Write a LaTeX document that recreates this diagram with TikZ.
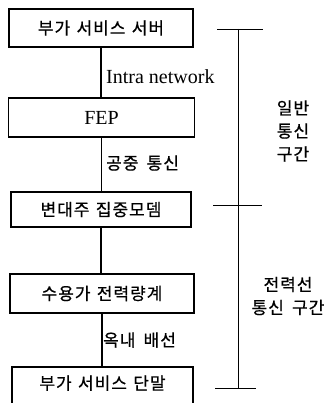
\documentclass[tikz,border=0pt]{standalone}
\usepackage{fontspec}
\newfontfamily\kr[LetterSpace=6,WordSpace=2,FakeBold=0.6]{Noto Sans CJK KR}
\newfontfamily\krbox[LetterSpace=6,WordSpace=1.3,FakeBold=0.6]{Noto Sans CJK KR}
\newfontfamily\latf{Liberation Serif}
\begin{document}
\begin{tikzpicture}[x=1pt,y=-1pt,
  box/.style={draw,line width=1.2pt,inner sep=0pt,minimum width=184pt,minimum height=38pt,
    font=\krbox\fontsize{17}{20}\selectfont},
  lat/.style={font=\latf\fontsize{20}{22}\selectfont},
  lbl/.style={font=\kr\fontsize{17}{20}\selectfont,inner sep=0pt},
  side/.style={font=\kr\fontsize{17}{23}\selectfont,inner sep=0pt,align=center},
  conn/.style={line width=1.1pt},
  brk/.style={line width=0.9pt}]
\fill[white] (0,0) rectangle (335,403);
\useasboundingbox (0,0) rectangle (335,403);
\clip (0,0) rectangle (335,403);
\node[box] (b1) at (101,28) {부가 서비스 서버};
\node[box,minimum width=186pt,minimum height=39pt,lat] (b2) at (101.5,117.5) {FEP};
\node[box,minimum width=180pt,minimum height=35pt] (b3) at (101,209.5) {변대주 집중모뎀};
\node[box,minimum height=39pt] (b4) at (102,293.5) {수용가 전력량계};
\node[box,minimum width=181pt,minimum height=40pt,text depth=0pt] (b5) at (102.5,387) {\raisebox{9pt}{부가 서비스 단말}};
\draw[conn] (b1.south) -- (b1.south |- b2.north);
\draw[conn] (b2.south) -- (b2.south |- b3.north);
\draw[conn] (b3.south) -- (b3.south |- b4.north);
\draw[conn] (b4.south) -- (b4.south |- b5.north);
\node[lat,anchor=west,inner sep=0pt] (l1) at (106,77) {Intra network};
\node[lbl,anchor=west] (l2) at (106,163) {공중 통신};
\node[lbl,anchor=west] (l3) at (103,340) {옥내 배선};
\coordinate (bt) at (238,29);
\coordinate (bm) at (238,205);
\coordinate (bb) at (238,388);
\coordinate (tl) at (217,29);
\coordinate (tr) at (263,29);
\coordinate (ml) at (213,205);
\coordinate (mr) at (262,205);
\coordinate (bl) at (215,388);
\coordinate (br) at (256,388);
\draw[brk] (bt) -- (bb);
\draw[brk] (tl) -- (tr);
\draw[brk] (ml) -- (mr);
\draw[brk] (bl) -- (br);
\node[side] (s1) at (293,131) {일반\\통신\\구간};
\node[side] (s2) at (288,296) {전력선\\통신 구간};
\end{tikzpicture}
\end{document}
